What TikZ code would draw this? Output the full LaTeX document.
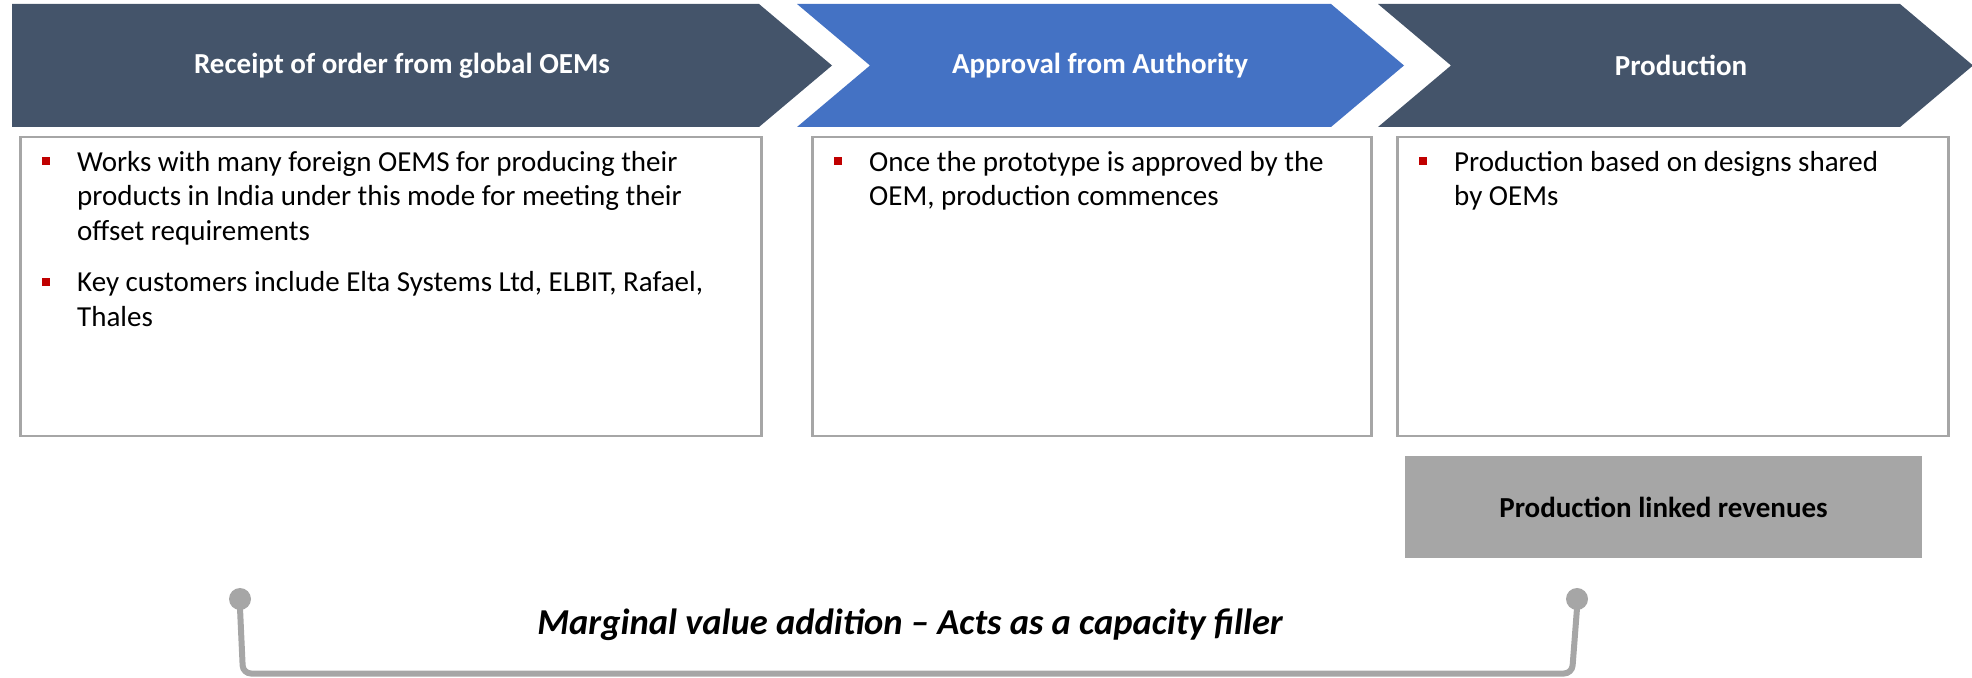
\documentclass[tikz,border=0pt]{standalone}
\usepackage{fontspec}
\setmainfont{Carlito}
\usepackage{xcolor}
\usetikzlibrary{positioning}

\definecolor{slate}{HTML}{44546A}
\definecolor{blueish}{HTML}{4472C4}
\definecolor{frame}{HTML}{A6A6A6}
\definecolor{bulred}{HTML}{C00000}

\newcommand{\bul}{\leavevmode\llap{\textcolor{bulred}{\rule[6pt]{8pt}{8pt}}\hspace{27pt}}}

\begin{document}
\begin{tikzpicture}[x=1pt, y=1pt,
    head/.style = {text=white, font=\fontsize{29}{33}\selectfont\bfseries},
    card/.style = {draw=frame, line width=2.5pt, minimum height=299pt, anchor=north west, inner sep=0pt},
    txt/.style = {anchor=north west, align=left, inner sep=0pt, font=\fontsize{29}{34.5}\selectfont},
    dot/.style = {circle, fill=frame, minimum size=22pt, inner sep=0pt},
    brk/.style = {draw=frame, line width=6pt, rounded corners=8pt}]
    \useasboundingbox (0,0) rectangle (1972,677);
    \clip (0,0) rectangle (1972,677);

    % chevrons
    \fill[slate] (12,673) -- (759,673) -- (832,611.5) -- (759,550) -- (12,550) -- cycle;
    \fill[blueish] (797,673) -- (1331,673) -- (1404,611.5) -- (1331,550) -- (797,550) -- (870,611.5) -- cycle;
    \fill[slate] (1378,673) -- (1900,673) -- (1973,611.5) -- (1900,550) -- (1378,550) -- (1451,611.5) -- cycle;
    \node[head] (h1) at (402,611.5) {Receipt of order from global OEMs};
    \node[head] (h2) at (1100,611.5) {Approval from Authority};
    \node[head] (h3) at (1681,611.5) {Production};

    % cards
    \node[card, minimum width=741pt] (c1) at (19,541) {};
    \node[card, minimum width=559pt] (c2) at (811,541) {};
    \node[card, minimum width=551pt] (c3) at (1396,541) {};
    \node[txt] (t1) at ([xshift=58pt, yshift=-15pt]c1.north west) {\bul Works with many foreign OEMS for producing their\\ products in India under this mode for meeting their\\ offset requirements\\[17pt] \bul Key customers include Elta Systems Ltd, ELBIT, Rafael,\\ Thales};
    \node[txt] (t2) at ([xshift=58pt, yshift=-15pt]c2.north west) {\bul Once the prototype is approved by the\\ OEM, production commences};
    \node[txt] (t3) at ([xshift=58pt, yshift=-15pt]c3.north west) {\bul Production based on designs shared\\ by OEMs};

    \node[fill=frame, minimum width=517pt, minimum height=102pt, font=\fontsize{29}{33}\selectfont\bfseries] (rev) at (1663.5,170) {Production linked revenues};

    % bracket
    \node[dot] (dl) at (240,78) {};
    \node[dot] (dr) at (1577,78) {};
    \coordinate (base) at (0,3.5);
    \draw[brk] ([yshift=2pt]dl.south) -- ([xshift=3pt]dl |- base) -- ([xshift=-5pt]dr |- base) -- ([yshift=2pt]dr.south);
    \node[font=\fontsize{36.5}{40}\selectfont\bfseries\itshape] (note) at (910,52) {Marginal value addition – Acts as a capacity filler};
\end{tikzpicture}
\end{document}
